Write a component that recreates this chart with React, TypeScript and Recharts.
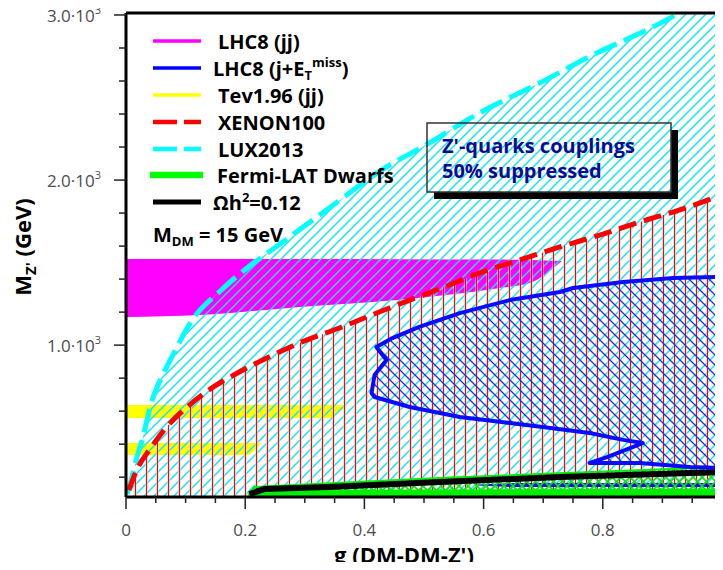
import React from 'react';
import {
  ComposedChart,
  Area,
  Line,
  Scatter,
  XAxis,
  YAxis,
  ReferenceLine,
} from 'recharts';

// LUX2013 exclusion boundary (g, M_Z' in GeV)
const luxG = [0.002, 0.01, 0.018, 0.027, 0.044, 0.059, 0.076, 0.111, 0.16, 0.203, 0.249, 0.341, 0.434, 0.497, 0.593, 0.694, 0.79, 0.874, 0.929, 1.0];
const luxM = [98, 201, 317, 425, 667, 801, 922, 1152, 1334, 1467, 1588, 1831, 2073, 2200, 2406, 2588, 2770, 2909, 3012, 3139];

// XENON100 exclusion boundary
const xenonG = [0.005, 0.018, 0.039, 0.064, 0.097, 0.139, 0.19, 0.24, 0.291, 0.358, 0.425, 0.476, 0.526, 0.593, 0.661, 0.728, 0.795, 0.862, 0.929, 1.0];
const xenonM = [122, 244, 364, 486, 607, 728, 837, 928, 1013, 1104, 1201, 1273, 1340, 1437, 1516, 1595, 1667, 1746, 1819, 1910];

// LHC8 mono-jet contour (closed)
const monoG = [1.0, 0.918, 0.834, 0.75, 0.728, 0.644, 0.56, 0.492, 0.447, 0.42, 0.437, 0.417, 0.412, 0.417, 0.476, 0.56, 0.644, 0.699, 0.778, 0.834, 0.867, 0.807, 0.778, 0.862, 0.946, 1.0];
const monoM = [1413, 1407, 1383, 1346, 1322, 1273, 1194, 1110, 1043, 989, 910, 819, 710, 686, 625, 565, 528, 504, 468, 426, 407, 322, 286, 286, 262, 256];

// small mono-jet sliver near the bottom
const slivG = [0.59, 0.65, 1.0];
const slivLo = [150, 140, 140];
const slivHi = [155, 165, 165];

// LHC8 dijet band
const lhcG = [0, 0.123, 0.291, 0.454, 0.627, 0.677, 0.731];
const lhcLo = [1170, 1182, 1231, 1273, 1346, 1376, 1510];
const lhcHi = [1522, 1522, 1522, 1520, 1518, 1516, 1510];

// Tevatron dijet bands
const tev1G = [0, 0.346, 0.37];
const tev1Lo = [559, 559, 632];
const tev1Hi = [637, 637, 637];
const tev2G = [0, 0.207, 0.227];
const tev2Lo = [334, 334, 402];
const tev2Hi = [407, 407, 407];

// Fermi-LAT dwarfs
const fermiG = [0.205, 0.215, 0.526, 1.0];
const fermiSolid = [85, 122, 126, 130];
const fermiHatch = [90, 140, 195, 262];

// relic density line
const relicG = [0.207, 0.232, 0.341, 0.526, 0.728, 1.0];
const relicM = [98, 128, 141, 171, 201, 231];

const xTicks = [0, 0.05, 0.1, 0.15, 0.2, 0.25, 0.3, 0.35, 0.4, 0.45, 0.5, 0.55, 0.6, 0.65, 0.7, 0.75, 0.8, 0.85, 0.9, 0.95, 1];
const xMajor = [0, 0.2, 0.4, 0.6, 0.8, 1];
const xMajorLabels = ['0', '0.2', '0.4', '0.6', '0.8', '1'];
const yTicks = [200, 400, 600, 800, 1000, 1200, 1400, 1600, 1800, 2000, 2200, 2400, 2600, 2800, 3000];
const yMajor = [1000, 2000, 3000];
const yMajorLabels = ['1.0·10', '2.0·10', '3.0·10'];

const pts = (g: number[], m: number[]) => g.map((x, i) => ({ x, y: m[i] }));
const band = (g: number[], lo: number[], hi: number[]) =>
  g.map((x, i) => ({ x, r: [lo[i], hi[i]] }));

const luxData = pts(luxG, luxM);
const xenonData = pts(xenonG, xenonM);
const monoData = pts(monoG, monoM);
const slivData = band(slivG, slivLo, slivHi);
const lhcData = band(lhcG, lhcLo, lhcHi);
const tev1Data = band(tev1G, tev1Lo, tev1Hi);
const tev2Data = band(tev2G, tev2Lo, tev2Hi);
const fermiSolidData = pts(fermiG, fermiSolid);
const fermiHatchData = pts(fermiG, fermiHatch);
const relicData = pts(relicG, relicM);

const FONT = '"Open Sans", sans-serif';

const XTick = ({ x, y, payload }: any) => {
  const i = xMajor.findIndex((v) => Math.abs(v - payload.value) < 1e-6);
  const major = i >= 0;
  return (
    <g>
      <line x1={x} x2={x} y1={y} y2={y + (major ? 12 : 6)} stroke="#222" strokeWidth={1.5} />
      {major && (
        <text x={x} y={y + 39} textAnchor="middle" fontFamily={FONT} fontSize={17} fill="#4d4d4d">
          {xMajorLabels[i]}
        </text>
      )}
    </g>
  );
};

const YTick = ({ x, y, payload }: any) => {
  const i = yMajor.indexOf(payload.value);
  const major = i >= 0;
  return (
    <g>
      <line x1={x - (major ? 12 : 7)} x2={x} y1={y} y2={y} stroke="#222" strokeWidth={1.5} />
      {major && (
        <text x={x - 25} y={y + 7} textAnchor="end" fontFamily={FONT} fontSize={17} fill="#4d4d4d">
          {yMajorLabels[i]}
          <tspan fontSize={11} dy={-8}>3</tspan>
        </text>
      )}
    </g>
  );
};

const closedPath = (props: any) => {
  const p = props.points || [];
  if (!p.length) return <g />;
  const d = 'M' + p.map((q: any) => `${q.x},${q.y}`).join('L') + 'Z';
  return <path d={d} fill="url(#blueHatch)" stroke="#0a0aff" strokeWidth={4} strokeLinejoin="round" />;
};

const legendRows = [
  { y: 41, color: '#ff00ff', w: 3.5, dash: undefined as string | undefined },
  { y: 68, color: '#0000ff', w: 3.5, dash: undefined },
  { y: 95, color: '#ffff00', w: 3.5, dash: undefined },
  { y: 122, color: '#ff0000', w: 4.5, dash: '24 7' },
  { y: 149, color: '#00ffff', w: 4.5, dash: '24 7' },
  { y: 175, color: '#00ff00', w: 6.5, dash: undefined },
  { y: 202, color: '#000000', w: 5, dash: undefined },
];

const Overlay = () => (
  <svg
    width={723}
    height={570}
    style={{ position: 'absolute', left: 0, top: 0, pointerEvents: 'none' }}
    fontFamily={FONT}
  >
    {legendRows.map((r, i) => (
      <line
        key={i}
        x1={i === 5 ? 150 : 153}
        x2={i === 5 ? 203 : 201}
        y1={r.y}
        y2={r.y}
        stroke={r.color}
        strokeWidth={r.w}
        strokeDasharray={r.dash}
      />
    ))}
    <g fontWeight={700} fontSize={20} fill="#000">
      <text x={218} y={49}>LHC8 (jj)</text>
      <text x={213} y={76}>
        LHC8 (j+E
        <tspan fontSize={13} dy={4}>T</tspan>
        <tspan fontSize={13} dy={-13}>miss</tspan>
        <tspan dy={9}>)</tspan>
      </text>
      <text x={218} y={103}>Tev1.96 (jj)</text>
      <text x={218} y={130}>XENON100</text>
      <text x={218} y={157}>LUX2013</text>
      <text x={217} y={183}>Fermi-LAT Dwarfs</text>
      <text x={213} y={210}>
        Ωh<tspan fontSize={13} dy={-8}>2</tspan>
        <tspan dy={8}>=0.12</tspan>
      </text>
      <text x={153} y={242}>
        M<tspan fontSize={13} dy={4}>DM</tspan>
        <tspan dy={-4}> = 15 GeV</tspan>
      </text>
    </g>

    {/* annotation box */}
    <rect x={671} y={130} width={7} height={69} fill="#000" />
    <rect x={434} y={192} width={244} height={7} fill="#000" />
    <rect x={427} y={123} width={244} height={69} fill="none" stroke="#333" strokeWidth={1.5} />
    <g fontWeight={700} fontSize={20} fill="#0b0b96">
      <text x={442} y={153}>Z'-quarks couplings</text>
      <text x={442} y={178}>50% suppressed</text>
    </g>

    {/* axis titles */}
    <text x={404} y={563} textAnchor="middle" fontWeight={700} fontSize={22} fill="#000">
      g (DM-DM-Z')
    </text>
    <text
      transform="translate(31,247) rotate(-90)"
      textAnchor="middle"
      fontWeight={700}
      fontSize={22}
      fill="#000"
    >
      M<tspan fontSize={15} dy={5}>Z'</tspan>
      <tspan dy={-5}> (GeV)</tspan>
    </text>
  </svg>
);

export default function App() {
  return (
    <div
      style={{
        position: 'relative',
        margin: -8,
        width: 723,
        height: 570,
        overflow: 'hidden',
        background: '#fff',
      }}
    >
      <ComposedChart width={740} height={570} margin={{ top: 13, right: 18, bottom: 0, left: 0 }}>
        <defs>
          <pattern id="cyanHatch" patternUnits="userSpaceOnUse" width={10} height={10}>
            <path d="M0,10 L10,0 M-2,2 L2,-2 M8,12 L12,8" stroke="#12e6f2" strokeWidth={1.5} />
          </pattern>
          <pattern id="redHatch" patternUnits="userSpaceOnUse" width={11} height={10}>
            <rect x={2.5} y={0} width={2} height={10} fill="#ffe0e0" />
            <line x1={3.5} x2={3.5} y1={0} y2={10} stroke="#ff0000" strokeWidth={1.1} />
          </pattern>
          <pattern id="blueHatch" patternUnits="userSpaceOnUse" width={10} height={10}>
            <path d="M0,0 L10,10 M-2,8 L2,12 M8,-2 L12,2" stroke="#2a2ad6" strokeWidth={1.3} />
          </pattern>
          <pattern id="greenHatch" patternUnits="userSpaceOnUse" width={9} height={9}>
            <path d="M0,0 L9,9 M9,0 L0,9" stroke="#10e010" strokeWidth={1.6} />
          </pattern>
        </defs>

        <XAxis
          type="number"
          dataKey="x"
          domain={[0, 1]}
          allowDataOverflow
          ticks={xTicks}
          interval={0}
          height={73}
          tickSize={0}
          tickMargin={0}
          tickLine={false}
          tick={<XTick />}
          axisLine={{ stroke: '#000', strokeWidth: 3 }}
        />
        <YAxis
          type="number"
          domain={[80, 3012]}
          allowDataOverflow
          ticks={yTicks}
          interval={0}
          width={126}
          tickSize={0}
          tickMargin={0}
          tickLine={false}
          tick={<YTick />}
          axisLine={{ stroke: '#000', strokeWidth: 3 }}
        />

        <Area data={lhcData} dataKey="r" type="monotone" fill="#ff00ff" fillOpacity={1} stroke="none" isAnimationActive={false} />
        <Area data={tev1Data} dataKey="r" type="linear" fill="#ffff00" fillOpacity={1} stroke="none" isAnimationActive={false} />
        <Area data={tev2Data} dataKey="r" type="linear" fill="#ffff00" fillOpacity={1} stroke="none" isAnimationActive={false} />

        <Area
          data={luxData}
          dataKey="y"
          type="monotone"
          fill="url(#cyanHatch)"
          fillOpacity={1}
          stroke="#00ffff"
          strokeWidth={5}
          strokeDasharray="24 8"
          isAnimationActive={false}
        />
        <Area
          data={xenonData}
          dataKey="y"
          type="monotone"
          fill="url(#redHatch)"
          fillOpacity={1}
          stroke="#ff0000"
          strokeWidth={5}
          strokeDasharray="18 8"
          isAnimationActive={false}
        />

        <Scatter
          data={monoData}
          dataKey="y"
          line={closedPath}
          shape={() => <g />}
          isAnimationActive={false}
        />
        <Area data={slivData} dataKey="r" type="linear" fill="#1010ee" fillOpacity={1} stroke="none" isAnimationActive={false} />

        <Area
          data={fermiHatchData}
          dataKey="y"
          type="linear"
          fill="url(#greenHatch)"
          fillOpacity={1}
          stroke="#00ee00"
          strokeWidth={2}
          isAnimationActive={false}
        />
        <Area data={fermiSolidData} dataKey="y" type="linear" fill="#00ee00" fillOpacity={1} stroke="none" isAnimationActive={false} />

        <Line data={relicData} dataKey="y" type="linear" stroke="#000" strokeWidth={6} dot={false} isAnimationActive={false} />

        <ReferenceLine x={1} stroke="#00ffff" strokeWidth={3} />
        <ReferenceLine segment={[{ x: 1, y: 80 }, { x: 1, y: 1910 }]} stroke="#ff0000" strokeWidth={3} strokeDasharray="6 24" />
        <ReferenceLine y={3012} stroke="#000" strokeWidth={3} />
      </ComposedChart>
      <Overlay />
    </div>
  );
}
